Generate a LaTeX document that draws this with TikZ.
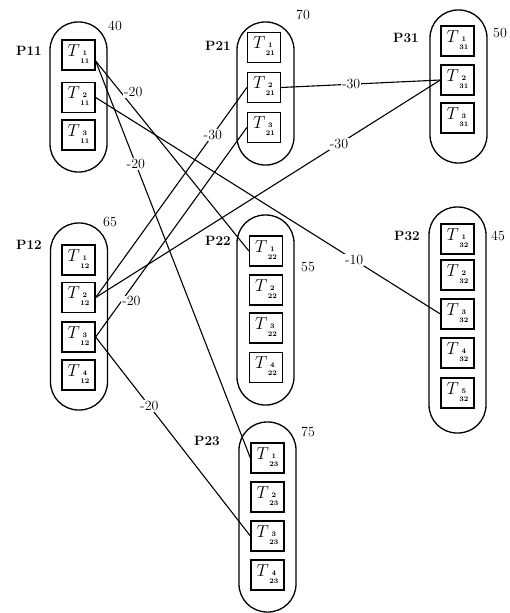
\documentclass[tikz,border=0pt]{standalone}
\begin{document}
\newcommand\Tk[2]{$T$\hspace{0.5pt}\raisebox{-3.2pt}{\fontsize{7}{8}\selectfont\bfseries\begin{tabular}{@{}c@{}}#1\\#2\end{tabular}}}
\begin{tikzpicture}[x=1pt,y=-1pt,
 cont/.style={draw, line width=1.3pt, rounded corners=28pt, minimum width=57pt, inner sep=0pt},
 tbox/.style={draw, line width=1.3pt, minimum width=33pt, minimum height=30pt, inner sep=0pt, font=\fontsize{16}{18}\selectfont},
 plabel/.style={font=\fontsize{13.5}{15}\selectfont\bfseries, inner sep=0pt},
 num/.style={font=\fontsize{14}{16}\selectfont, inner sep=0pt},
 link/.style={line width=1.1pt},
 lbl/.style={fill=white, inner sep=1pt, font=\fontsize{14}{16}\selectfont}]
\useasboundingbox (0,0) rectangle (510,613);
% containers
\node[cont, minimum height=150pt] (P11) at (78.5,97) {};
\node[cont, minimum height=143pt] (P21) at (265.5,93.5) {};
\node[cont, minimum height=153pt] (P31) at (458.5,86.5) {};
\node[cont, minimum height=187pt] (P12) at (79,316.5) {};
\node[cont, minimum height=190pt] (P22) at (265.5,310) {};
\node[cont, minimum height=226pt] (P32) at (457.5,320) {};
\node[cont, minimum height=190pt] (P23) at (267.5,517) {};
% container labels
\node[plabel] (L11) at (29,51) {P11};   \node[num] (N11) at (115,26) {40};
\node[plabel] (L21) at (218,46) {P21};  \node[num] (N21) at (303,15) {70};
\node[plabel] (L31) at (406,38) {P31};  \node[num] (N31) at (500,33) {50};
\node[plabel] (L12) at (29,245) {P12};  \node[num] (N12) at (110,222) {65};
\node[plabel] (L22) at (218,241) {P22}; \node[num] (N22) at (308,267) {55};
\node[plabel] (L32) at (407,236) {P32}; \node[num] (N32) at (498,236) {45};
\node[plabel] (L23) at (207,441) {P23}; \node[num] (N23) at (308,432) {75};
% task boxes
\node[tbox] (T111) at (78.5,55) {\Tk{1}{11}};
\node[tbox] (T112) at (78.5,97.5) {\Tk{2}{11}};
\node[tbox] (T113) at (78.5,135) {\Tk{3}{11}};
\node[tbox] (T211) at (264,47.5) {\Tk{1}{21}};
\node[tbox] (T212) at (264,87.5) {\Tk{2}{21}};
\node[tbox] (T213) at (264,127.5) {\Tk{3}{21}};
\node[tbox] (T311) at (457.5,41) {\Tk{1}{31}};
\node[tbox] (T312) at (457.5,80) {\Tk{2}{31}};
\node[tbox] (T313) at (457.5,118) {\Tk{3}{31}};
\node[tbox] (T121) at (78.5,260) {\Tk{1}{12}};
\node[tbox] (T122) at (78.5,297.5) {\Tk{2}{12}};
\node[tbox] (T123) at (78.5,337) {\Tk{3}{12}};
\node[tbox] (T124) at (78.5,375) {\Tk{4}{12}};
\node[tbox] (T221) at (266,251) {\Tk{1}{22}};
\node[tbox] (T222) at (266,290) {\Tk{2}{22}};
\node[tbox] (T223) at (266,328) {\Tk{3}{22}};
\node[tbox] (T224) at (266,367.5) {\Tk{4}{22}};
\node[tbox] (T321) at (457.5,239) {\Tk{1}{32}};
\node[tbox] (T322) at (457.5,275) {\Tk{2}{32}};
\node[tbox] (T323) at (457.5,314) {\Tk{3}{32}};
\node[tbox] (T324) at (457.5,353) {\Tk{4}{32}};
\node[tbox] (T325) at (457.5,393) {\Tk{5}{32}};
\node[tbox] (T231) at (267.5,458) {\Tk{1}{23}};
\node[tbox] (T232) at (267.5,497) {\Tk{2}{23}};
\node[tbox] (T233) at (267.5,536) {\Tk{3}{23}};
\node[tbox] (T234) at (267.5,575) {\Tk{4}{23}};
% connectors
\draw[link] ([yshift=-6pt]T111.east) -- node[lbl,pos=0.196,xshift=7.6pt,yshift=6.5pt]{-20} (T221.west);
\draw[link] ([yshift=-6pt]T111.east) -- node[lbl,pos=0.26]{-20} (T231.west);
\draw[link] (T112.east) -- node[lbl,pos=0.75]{-10} (T323.west);
\draw[link] (T212.west) -- node[lbl,pos=0.225]{-30} (T122.east);
\draw[link] (T213.west) -- node[lbl,pos=0.83,xshift=10pt]{-20} (T123.east);
\draw[link] (T212.east) -- node[lbl,pos=0.44]{-30} (T312.west);
\draw[link] (T312.west) -- node[lbl,pos=0.294]{-30} (T122.east);
\draw[link] (T123.east) -- node[lbl,pos=0.347]{-20} (T233.west);
\end{tikzpicture}
\end{document}
